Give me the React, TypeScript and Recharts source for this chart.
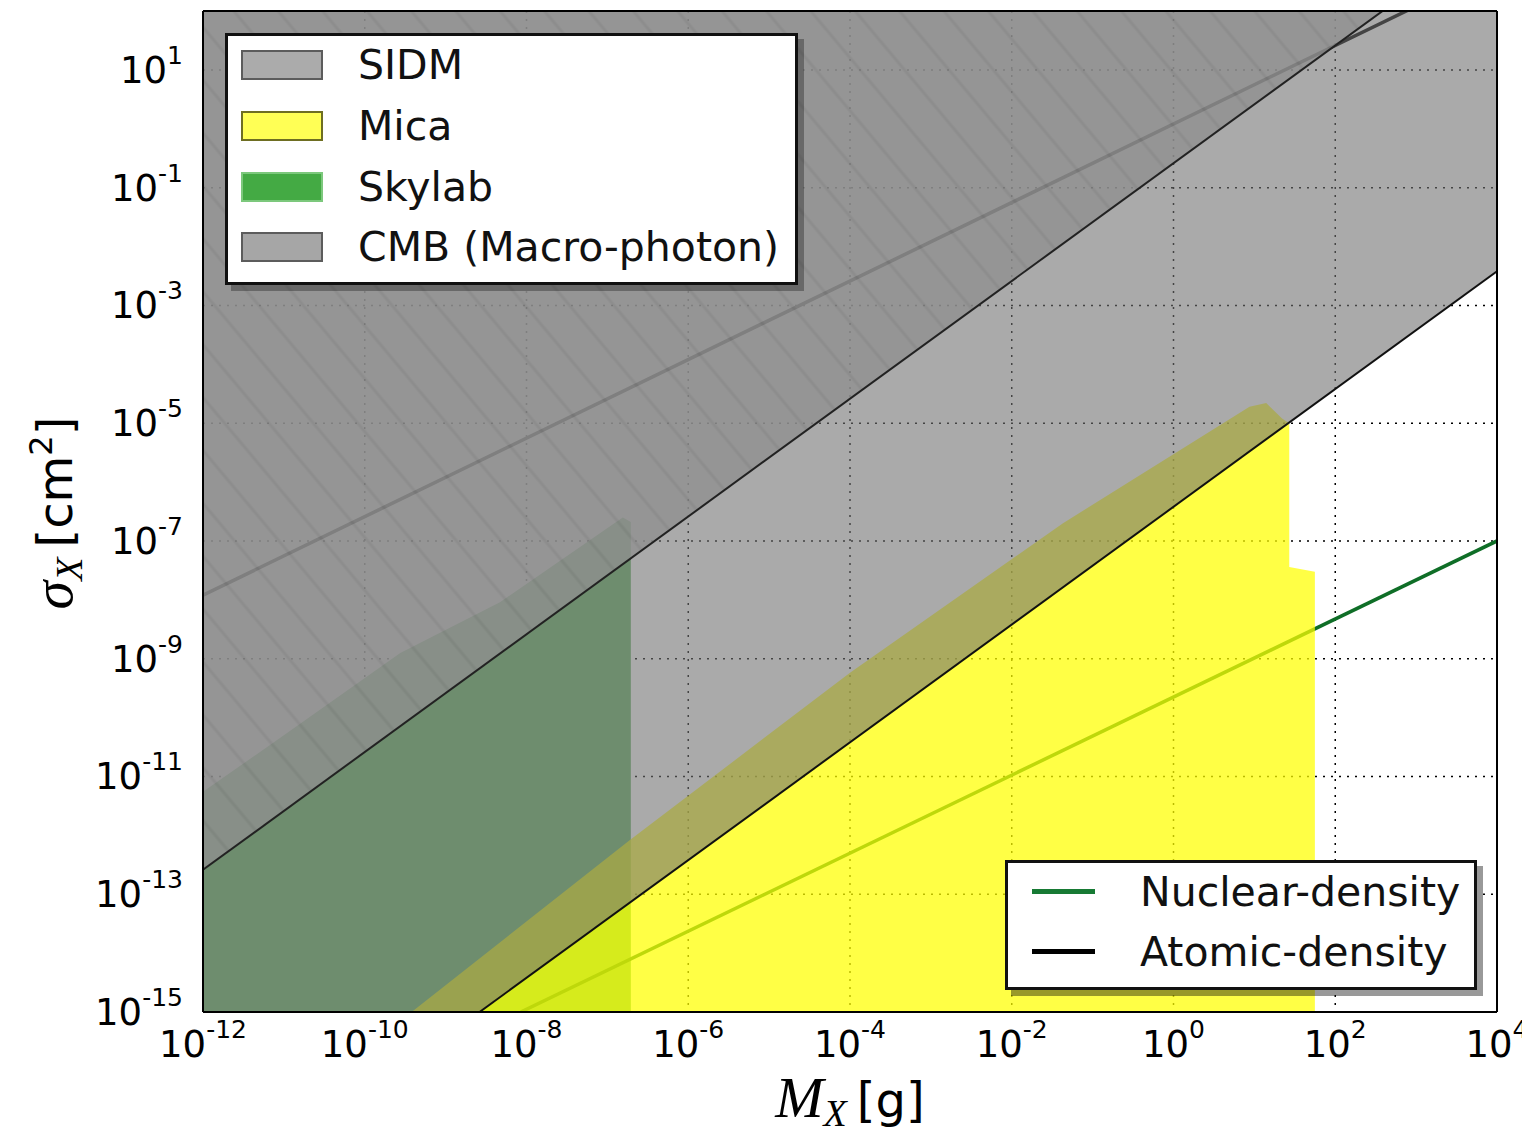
import React from "react";
import { ComposedChart, Area, XAxis, YAxis, CartesianGrid } from "recharts";

// log-log plane: M_X [g] on x, sigma_X [cm^2] on y
const xTicks = [1e-12, 1e-10, 1e-8, 1e-6, 1e-4, 1e-2, 1, 1e2, 1e4];
const yTicks = [1e-15, 1e-13, 1e-11, 1e-9, 1e-7, 1e-5, 1e-3, 1e-1, 1e1];

// Skylab exclusion (upper edge), runs down to the bottom of the plot
const skylabMass = [1e-12, 1e-11, 2.75e-10, 4.7e-9, 1.55e-7, 1.95e-7];
const skylabSigma = [5.5e-12, 5e-11, 1.25e-9, 9.1e-9, 2.5e-7, 2.1e-7];

// Mica exclusion (upper edge, with the step on the right)
const micaMass = [3.8e-10, 1.9e-7, 1e-4, 4.3e-2, 8.7, 14, 22, 27, 27, 56];
const micaSigma = [1e-15, 8.3e-13, 5.8e-10, 2e-7, 1.9e-5, 2.2e-5, 1.2e-5, 1e-5, 3.6e-8, 3.0e-8];

// CMB (macro-photon) and SIDM: excluded above these edges
const cmbMass = [1e-12, 1e4];
const cmbSigma = [3.8e-19, 3.8e-3];
const sidmMass = [1e-12, 1e4];
const sidmSigma = [2.6e-13, 2.6e3];

// geometric cross sections
const atomicMass = [1e-12, 1e4];
const atomicSigma = [1.2e-8, 5.6e2];
const nuclearMass = [8.5e-9, 1e4];
const nuclearSigma = [1e-15, 1e-7];

const FLOOR = 1e-15;
const CEIL = 1e6;

const below = (mass: number[], sig: number[]) => mass.map((m, i) => ({ m, r: [FLOOR, sig[i]] }));
const above = (mass: number[], sig: number[]) => mass.map((m, i) => ({ m, r: [sig[i], CEIL] }));
const curve = (mass: number[], sig: number[]) => mass.map((m, i) => ({ m, s: sig[i] }));

const skylabData = below(skylabMass, skylabSigma);
const micaData = below(micaMass, micaSigma);
const cmbData = above(cmbMass, cmbSigma);
const sidmData = above(sidmMass, sidmSigma);
const atomicData = curve(atomicMass, atomicSigma);
const nuclearData = curve(nuclearMass, nuclearSigma);

const expOf = (v: number) => String(Math.round(Math.log10(v)));

// eslint-disable-next-line @typescript-eslint/no-explicit-any
function XTick({ x, y, payload }: any) {
  return (
    <text x={x} y={y + 45} textAnchor="middle" fontFamily="DejaVu Sans" fontSize={37} fill="#000">
      10<tspan dy={-19} fontSize={25}>{expOf(payload.value)}</tspan>
    </text>
  );
}

// eslint-disable-next-line @typescript-eslint/no-explicit-any
function YTick({ x, y, payload }: any) {
  return (
    <text x={x - 20} y={y + 13} textAnchor="end" fontFamily="DejaVu Sans" fontSize={37} fill="#000">
      10<tspan dy={-19} fontSize={25}>{expOf(payload.value)}</tspan>
    </text>
  );
}

const xDomain = [1e-12, 1e4];
const yDomain = [1e-15, 1e2];
const tickMark = { stroke: "#000", strokeWidth: 1.5 };
const frame = { stroke: "#000", strokeWidth: 2 };

const legendText: React.CSSProperties = {
  position: "absolute", fontFamily: "DejaVu Sans", fontSize: 41, lineHeight: "50px", height: 50, color: "#111", whiteSpace: "nowrap",
};

const topLegend = [
  { label: "SIDM", fill: "#ababab", edge: "#5c5c5c" },
  { label: "Mica", fill: "#ffff55", edge: "#6e6e22" },
  { label: "Skylab", fill: "#44aa44", edge: "#7cc87c" },
  { label: "CMB (Macro-photon)", fill: "#a6a6a6", edge: "#5c5c5c" },
];
const topRows = [29, 90, 150.5, 211];

const lineLegend = [
  { label: "Nuclear-density", color: "#177a34" },
  { label: "Atomic-density", color: "#000" },
];
const lineRows = [29, 89];

export default function App() {
  return (
    <div style={{ position: "absolute", left: 0, top: 0, width: 1522, height: 1133, background: "#fff" }}>
      <svg width={0} height={0} style={{ position: "absolute" }}>
        <defs>
          <pattern id="sidmHatch" patternUnits="userSpaceOnUse" width={34} height={34} patternTransform="rotate(-40)">
            <rect width={34} height={34} fill="#8f8f8f" />
            <line x1={2} y1={0} x2={2} y2={34} stroke="#858585" strokeWidth={3} />
          </pattern>
        </defs>
      </svg>

      <ComposedChart width={1522} height={1133} margin={{ top: 11, right: 25, bottom: 61, left: 83 }}>
        <CartesianGrid stroke="#000" strokeDasharray="2 6" strokeWidth={1.5} />
        <XAxis dataKey="m" type="number" scale="log" domain={xDomain} allowDataOverflow ticks={xTicks} interval={0}
          height={60} tick={<XTick />} tickLine={false} tickSize={0} tickMargin={0} axisLine={frame} />
        <YAxis type="number" scale="log" domain={yDomain} allowDataOverflow ticks={yTicks} interval={0}
          width={120} tick={<YTick />} tickLine={false} tickSize={0} tickMargin={0} axisLine={frame} />
        <XAxis xAxisId="top" orientation="top" mirror dataKey="m" type="number" scale="log" domain={xDomain} allowDataOverflow
          ticks={xTicks} interval={0} tick={false} tickSize={12} tickLine={tickMark} axisLine={frame} />
        <XAxis xAxisId="inner" orientation="bottom" mirror dataKey="m" type="number" scale="log" domain={xDomain} allowDataOverflow
          ticks={xTicks} interval={0} tick={false} tickSize={12} tickLine={tickMark} axisLine={false} />
        <YAxis yAxisId="right" orientation="right" mirror type="number" scale="log" domain={yDomain} allowDataOverflow
          ticks={yTicks} interval={0} tick={false} tickSize={12} tickLine={tickMark} axisLine={frame} />
        <YAxis yAxisId="inner" orientation="left" mirror type="number" scale="log" domain={yDomain} allowDataOverflow
          ticks={yTicks} interval={0} tick={false} tickSize={12} tickLine={tickMark} axisLine={false} />

        <Area data={skylabData} dataKey="r" type="linear" fill="#69b669" fillOpacity={1} stroke="none" isAnimationActive={false} />
        <Area data={nuclearData} dataKey="s" type="linear" fill="none" stroke="#0f6e27" strokeWidth={3.5} isAnimationActive={false} />
        <Area data={atomicData} dataKey="s" type="linear" fill="none" stroke="#000" strokeWidth={3.5} isAnimationActive={false} />
        <Area data={micaData} dataKey="r" type="linear" fill="#ffff00" fillOpacity={0.73} stroke="none" isAnimationActive={false} />
        <Area data={cmbData} dataKey="r" type="linear" fill="#717171" fillOpacity={0.6} stroke="#111" strokeWidth={2} isAnimationActive={false} />
        <Area data={sidmData} dataKey="r" type="linear" fill="url(#sidmHatch)" fillOpacity={0.78} stroke="#222" strokeWidth={2} isAnimationActive={false} />
      </ComposedChart>

      <div style={{ position: "absolute", left: 225, top: 33, width: 573, height: 252, boxSizing: "border-box",
        border: "3px solid #111", background: "#fff", boxShadow: "6px 6px 0 rgba(0,0,0,0.3)" }}>
        {topLegend.map((it, i) => (
          <React.Fragment key={it.label}>
            <div style={{ position: "absolute", left: 13, top: topRows[i] - 15, width: 82, height: 30, boxSizing: "border-box",
              background: it.fill, border: `2px solid ${it.edge}` }} />
            <div style={{ ...legendText, left: 130, top: topRows[i] - 25 }}>{it.label}</div>
          </React.Fragment>
        ))}
      </div>

      <div style={{ position: "absolute", left: 1005, top: 860, width: 472, height: 130, boxSizing: "border-box",
        border: "3px solid #111", background: "#fff", boxShadow: "6px 6px 0 rgba(0,0,0,0.4)" }}>
        {lineLegend.map((it, i) => (
          <React.Fragment key={it.label}>
            <div style={{ position: "absolute", left: 24, top: lineRows[i] - 3, width: 63, height: 5, background: it.color }} />
            <div style={{ ...legendText, left: 132, top: lineRows[i] - 25 }}>{it.label}</div>
          </React.Fragment>
        ))}
      </div>

      <svg width={1522} height={1133} style={{ position: "absolute", left: 0, top: 0, pointerEvents: "none" }}>
        <text x={850} y={1117} textAnchor="middle" fill="#000">
          <tspan fontFamily="Liberation Serif" fontStyle="italic" fontSize={58}>M</tspan>
          <tspan fontFamily="Liberation Serif" fontStyle="italic" fontSize={38} dy={9}>X</tspan>
          <tspan fontFamily="DejaVu Sans" fontSize={48} dy={-9} dx={10}>[g]</tspan>
        </text>
        <text transform="translate(72,513) rotate(-90)" textAnchor="middle" fill="#000">
          <tspan fontFamily="Liberation Serif" fontStyle="italic" fontSize={58}>σ</tspan>
          <tspan fontFamily="Liberation Serif" fontStyle="italic" fontSize={38} dy={10}>X</tspan>
          <tspan fontFamily="DejaVu Sans" fontSize={48} dy={-10} dx={10}>[cm</tspan>
          <tspan fontFamily="DejaVu Sans" fontSize={32} dy={-20}>2</tspan>
          <tspan fontFamily="DejaVu Sans" fontSize={48} dy={20}>]</tspan>
        </text>
      </svg>
    </div>
  );
}
